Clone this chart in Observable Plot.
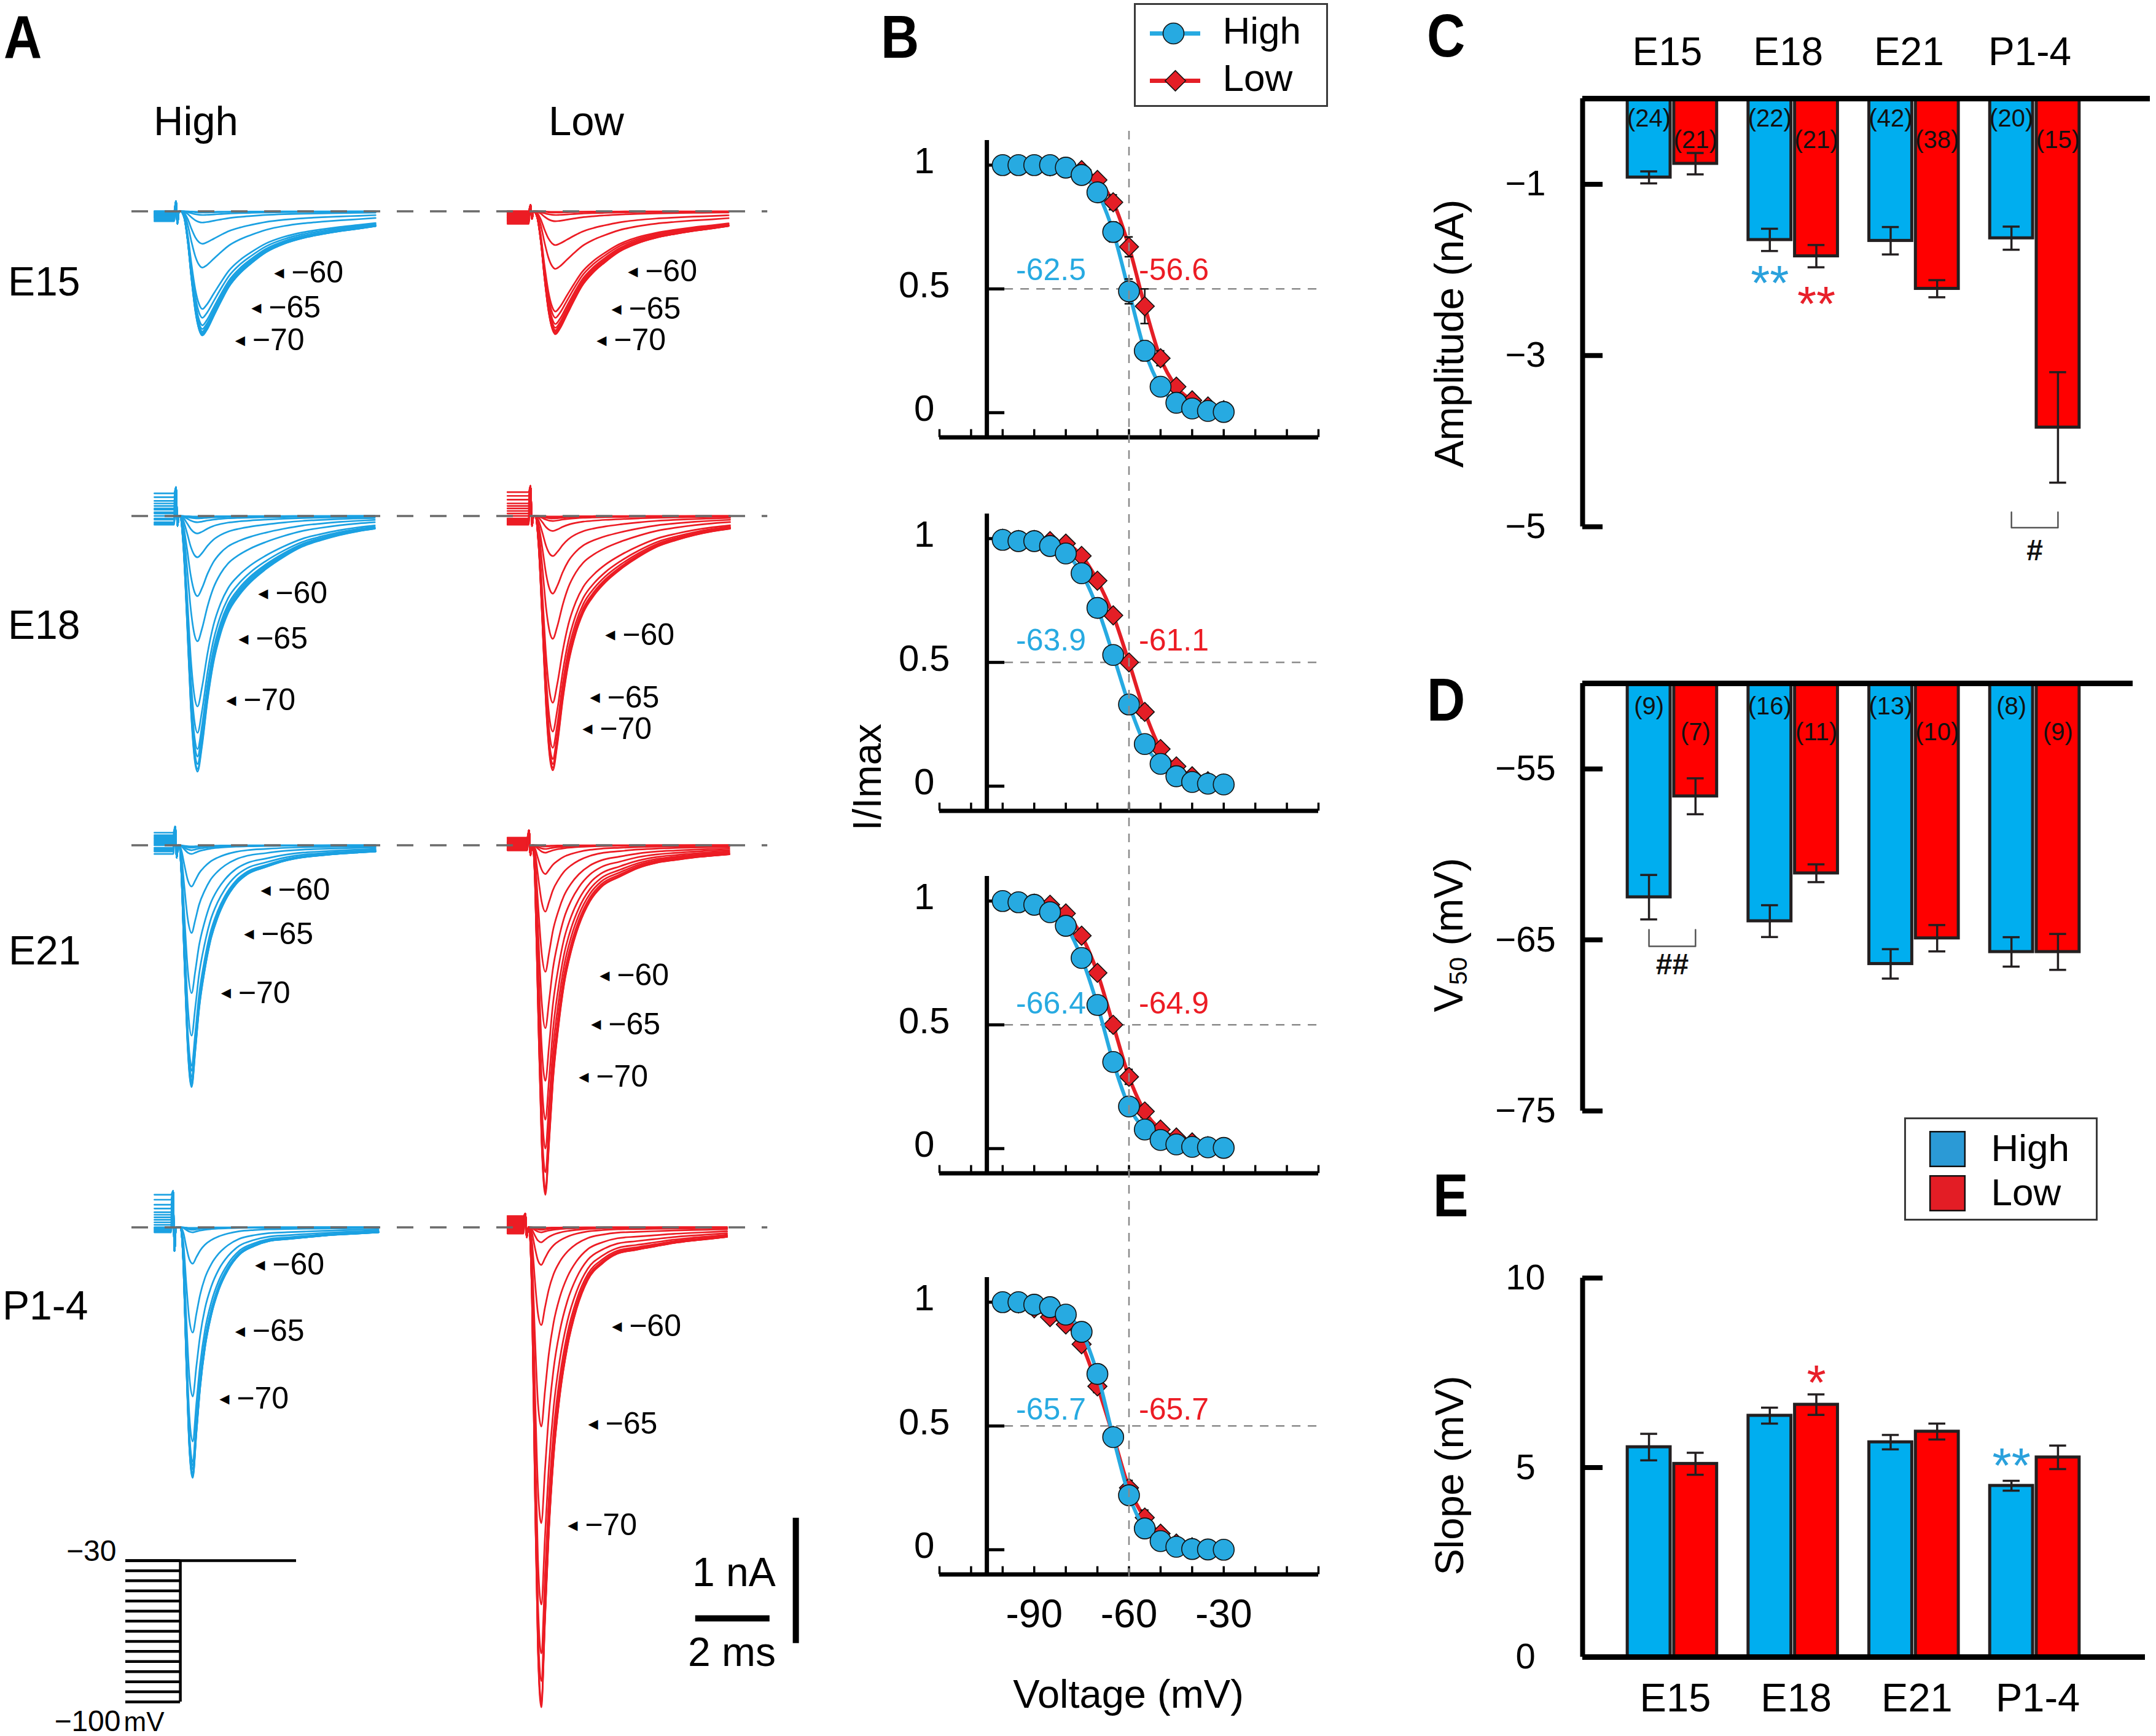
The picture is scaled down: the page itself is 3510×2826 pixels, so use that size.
<!DOCTYPE html>
<html><head><meta charset="utf-8">
<script src="https://cdn.jsdelivr.net/npm/d3@7"></script>
<script src="https://cdn.jsdelivr.net/npm/@observablehq/plot@0.6"></script>
<style>
html,body{margin:0;padding:0;background:#fff;}
#fig{position:relative;width:3510px;height:2826px;overflow:hidden;background:#fff;font-family:'Liberation Sans',Arial,Helvetica,sans-serif;}
.lab{position:absolute;white-space:nowrap;line-height:1;color:#000;}
.lab sub{font-size:0.62em;vertical-align:-0.18em;}
</style></head>
<body><div id="fig"></div>
<script>
// ======================= DATA =======================
const ages = ["E15", "E18", "E21", "P1-4"];
const conds = ["High", "Low"];
const prepulse = [-100,-95,-90,-85,-80,-75,-70,-65,-60,-55,-50,-45,-40,-35,-30];

// ---- Panel A: peak current (nA) of each trace, prepulse -100 ... -30 mV
const pkE15High = [0.99,0.99,0.98,0.97,0.96,0.94,0.91,0.85,0.78,0.45,0.26,0.09,0.03,0.01,0.005];
const pkE15Low  = [0.98,0.98,0.97,0.96,0.95,0.93,0.90,0.85,0.80,0.46,0.27,0.08,0.03,0.01,0.005];
const pkE18High = [2.04,2.02,1.98,1.92,1.86,1.73,1.52,1.00,0.64,0.33,0.14,0.05,0.02,0.01,0.005];
const pkE18Low  = [2.03,2.01,1.98,1.94,1.85,1.72,1.49,0.98,0.62,0.32,0.12,0.04,0.02,0.01,0.005];
const pkE21High = [1.93,1.92,1.90,1.88,1.85,1.80,1.76,1.52,1.18,0.70,0.33,0.07,0.04,0.02,0.01];
const pkE21Low  = [2.79,2.77,2.74,2.61,2.42,2.19,1.88,1.46,1.01,0.53,0.23,0.06,0.03,0.01,0.005];
const pkP14High = [2.00,1.99,1.98,1.96,1.93,1.90,1.87,1.71,1.35,0.84,0.29,0.04,0.02,0.01,0.005];
const pkP14Low  = [3.83,3.80,3.78,3.62,3.40,3.01,2.36,1.59,0.78,0.30,0.12,0.04,0.02,0.01,0.005];
// holding level of each trace before the test pulse (nA)
const preE15High = [-0.08,-0.07,-0.06,-0.05,-0.05,-0.04,-0.04,-0.03,-0.03,-0.02,-0.02,-0.01,-0.01,0,0];
const preE15Low  = [-0.10,-0.09,-0.08,-0.07,-0.06,-0.05,-0.05,-0.04,-0.03,-0.03,-0.02,-0.01,-0.01,0,0];
const preE18High = [0.18,0.15,0.12,0.10,0.08,0.06,0.05,0.03,0.02,0,-0.02,-0.03,-0.05,-0.06,-0.07];
const preE18Low  = [0.19,0.16,0.13,0.10,0.08,0.06,0.04,0.02,0,-0.02,-0.03,-0.04,-0.05,-0.06,-0.07];
const preE21High = [0.10,0.08,0.07,0.06,0.05,0.04,0.03,0.02,0.01,0,-0.02,-0.03,-0.04,-0.05,-0.07];
const preE21Low  = [0.06,0.05,0.04,0.03,0.02,0.02,0.01,0,0,-0.01,-0.02,-0.03,-0.03,-0.04,-0.04];
const preP14High = [0.26,0.22,0.18,0.15,0.12,0.10,0.08,0.06,0.04,0.02,0,-0.01,-0.02,-0.03,-0.04];
const preP14Low  = [0.09,0.08,0.07,0.06,0.05,0.04,0.03,0.02,0.01,0,-0.01,-0.02,-0.03,-0.04,-0.05];
// normalised time course of the largest trace of each age (t in ms from trace start)
const tmplT_E15 = [0.70,0.80,0.90,1.00,1.10,1.20,1.29,1.40,1.60,1.80,2.00,2.30,2.60,3.00,3.50,4.00,4.50,5.00,5.50,5.95];
const tmplV_E15 = [0,0.05,0.25,0.55,0.80,0.95,1.00,0.96,0.84,0.72,0.61,0.50,0.42,0.33,0.26,0.215,0.185,0.16,0.14,0.12];
const tmplT_E18 = [0.70,0.80,0.90,1.00,1.10,1.18,1.30,1.45,1.60,1.80,2.00,2.30,2.60,3.00,3.50,4.00,4.50,5.00,5.50,5.95];
const tmplV_E18 = [0,0.12,0.42,0.75,0.95,1.00,0.90,0.72,0.58,0.46,0.38,0.31,0.26,0.21,0.16,0.12,0.095,0.075,0.06,0.05];
const tmplT_E21 = [0.66,0.72,0.80,0.90,1.00,1.10,1.20,1.35,1.50,1.70,1.90,2.20,2.50,3.00,3.50,4.00,4.50,5.00,5.50,5.95];
const tmplV_E21 = [0,0.10,0.45,0.85,1.00,0.85,0.68,0.52,0.40,0.30,0.23,0.16,0.12,0.09,0.065,0.05,0.042,0.035,0.03,0.026];
const tmplT_P14 = [0.62,0.70,0.78,0.86,0.95,1.05,1.15,1.28,1.45,1.65,1.90,2.20,2.60,3.00,3.50,4.00,4.50,5.00,5.50,5.95];
const tmplV_P14 = [0,0.15,0.55,0.88,1.00,0.82,0.64,0.48,0.35,0.25,0.17,0.11,0.075,0.055,0.047,0.04,0.033,0.028,0.024,0.02];
// arrow labels: [prepulse mV, t (ms from trace start), I (nA)]
const labE15High = [[-60,3.22,-0.49],[-65,2.61,-0.77],[-70,2.17,-1.03]];
const labE15Low  = [[-60,3.24,-0.48],[-65,2.80,-0.78],[-70,2.40,-1.03]];
const labE18High = [[-60,2.79,-0.62],[-65,2.26,-0.98],[-70,1.93,-1.47]];
const labE18Low  = [[-60,2.63,-0.95],[-65,2.22,-1.45],[-70,2.02,-1.70]];
const labE21High = [[-60,2.86,-0.36],[-65,2.41,-0.71],[-70,1.79,-1.18]];
const labE21Low  = [[-60,2.48,-1.04],[-65,2.25,-1.43],[-70,1.92,-1.85]];
const labP14High = [[-60,2.71,-0.30],[-65,2.17,-0.83],[-70,1.75,-1.37]];
const labP14Low  = [[-60,2.81,-0.79],[-65,2.17,-1.57],[-70,1.62,-2.38]];
const protocolLevels = [-100,-95,-90,-85,-80,-75,-70,-65,-60,-55,-50,-45,-40,-35,-30];
const protocolTest = -30;
const scaleBarNA = 1, scaleBarMS = 2;

// ---- Panel B: I/Imax at each prepulse
const bHighE15 = [1.0,1.0,1.0,1.0,0.99,0.96,0.89,0.73,0.49,0.25,0.105,0.04,0.017,0.007,0.003];
const bLowE15  = [1.0,1.0,1.0,0.995,0.99,0.98,0.94,0.85,0.67,0.43,0.22,0.105,0.05,0.025,0.01];
const bHighE18 = [0.995,0.99,0.99,0.97,0.94,0.86,0.72,0.53,0.33,0.17,0.09,0.04,0.017,0.01,0.007];
const bLowE18  = [1.0,0.995,0.995,0.99,0.98,0.93,0.83,0.69,0.50,0.30,0.15,0.08,0.04,0.02,0.01];
const bHighE21 = [1.0,0.995,0.985,0.955,0.90,0.77,0.58,0.35,0.17,0.077,0.035,0.017,0.007,0.005,0.003];
const bLowE21  = [1.0,0.995,0.99,0.985,0.95,0.86,0.71,0.50,0.29,0.15,0.077,0.045,0.025,0.01,0.005];
const bHighP14 = [1.0,1.0,0.99,0.98,0.95,0.88,0.71,0.455,0.22,0.086,0.035,0.012,0.003,0.001,0.0];
const bLowP14  = [1.0,0.995,0.975,0.94,0.91,0.83,0.66,0.46,0.25,0.13,0.065,0.025,0.01,0.004,0.002];
const sHighE15 = [0,0,0,0,0.005,0.01,0.02,0.04,0.05,0.04,0.02,0.01,0.005,0,0];
const sLowE15  = [0,0,0,0,0.005,0.01,0.02,0.03,0.04,0.07,0.03,0.01,0.01,0,0];
const sHighE18 = [0,0,0,0.005,0.01,0.015,0.02,0.02,0.02,0.02,0.01,0.005,0,0,0];
const sLowE18  = [0,0,0,0.005,0.01,0.015,0.02,0.02,0.02,0.025,0.02,0.01,0.005,0,0];
const sHighE21 = [0,0,0,0.005,0.01,0.015,0.02,0.02,0.02,0.015,0.01,0.005,0,0,0];
const sLowE21  = [0,0,0,0.005,0.01,0.02,0.02,0.025,0.03,0.025,0.02,0.01,0.005,0,0];
const sHighP14 = [0,0,0,0.005,0.01,0.015,0.02,0.025,0.02,0.015,0.01,0.005,0,0,0];
const sLowP14  = [0,0,0,0.005,0.01,0.02,0.025,0.03,0.03,0.03,0.02,0.01,0.005,0,0];

// ---- Panel C: amplitude (nA)
const ampHigh = [-0.92,-1.65,-1.66,-1.63];
const ampHighSem = [0.07,0.13,0.16,0.135];
const ampLow = [-0.76,-1.84,-2.22,-3.84];
const ampLowSem = [0.125,0.13,0.10,0.645];
const ampNHigh = [24,22,42,20];
const ampNLow = [21,21,38,15];
// ---- Panel D: V50 (mV)
const v50High = [-62.5,-63.9,-66.4,-65.7];
const v50HighSem = [1.3,0.93,0.86,0.86];
const v50Low = [-56.6,-61.1,-64.9,-65.7];
const v50LowSem = [1.05,0.52,0.77,1.05];
const v50NHigh = [9,16,13,8];
const v50NLow = [7,11,10,9];
// ---- Panel E: slope (mV)
const slopeHigh = [5.54,6.37,5.67,4.52];
const slopeHighSem = [0.35,0.21,0.19,0.13];
const slopeLow = [5.1,6.66,5.95,5.27];
const slopeLowSem = [0.29,0.27,0.21,0.31];

// ======================= STYLE / LAYOUT =======================
const FONT = "'Liberation Sans', Arial, Helvetica, sans-serif";
const BLUE_T = "#1ba1e2", RED_T = "#ec1c24";
const BLUE_B = "#27aae1", RED_B = "#e41e26";
const BLUE_BAR = "#00aeef", RED_BAR = "#ff0000";
const BLUE_LEG = "#2b9ad6", RED_LEG = "#e31d25";
const SIG_BLUE = "#2aa1dc", SIG_RED = "#e8202a";
const INK = "#231f20";
const fig = document.getElementById("fig");

function place(el, left, top) {
  el.style.position = "absolute";
  el.style.left = left + "px";
  el.style.top = top + "px";
  el.style.background = "none";
  el.style.overflow = "visible";
  el.style.maxWidth = "none";
  el.style.fontFamily = FONT;
  fig.appendChild(el);
  return el;
}
function label(txt, x, base, size, o = {}) {
  const d = document.createElement("div");
  d.className = "lab";
  d.innerHTML = txt;
  d.style.fontSize = size + "px";
  d.style.left = x + "px";
  d.style.top = (base - 0.8465 * size) + "px";
  if (o.weight) d.style.fontWeight = o.weight;
  let tf = "";
  if (o.anchor === "middle") tf += "translateX(-50%) ";
  if (o.scaleX) { tf += "scaleX(" + o.scaleX + ")"; d.style.transformOrigin = "left center"; }
  d.style.transform = tf;
  fig.appendChild(d);
}
function vlabel(txt, cx, cy, size) {
  const d = document.createElement("div");
  d.className = "lab";
  d.innerHTML = txt;
  d.style.fontSize = size + "px";
  d.style.left = cx + "px";
  d.style.top = cy + "px";
  d.style.transform = "translate(-50%,-50%) rotate(-90deg)";
  fig.appendChild(d);
}
const diamondSym = {draw(ctx, size) { const r = Math.sqrt(size) * 0.62625; ctx.moveTo(0, -r); ctx.lineTo(r, 0); ctx.lineTo(0, r); ctx.lineTo(-r, 0); ctx.closePath(); }};

// ======================= PANEL A: traces =======================
const LOW_OFFSET = 9.5;               // ms, start of Low column
const A_PXMS = 60.5, A_PXNA = 204;    // px per ms, px per nA
const A_XDOM = [-0.61, 17.6], A_YDOM = [-4.4, 0.6];
const rowsA = [
  {age: "E15", base: 343, tT: tmplT_E15, tV: tmplV_E15, fams: [
    {cond: "High", peaks: pkE15High, pre: preE15High, tArt: 0.58, shift: 0, spike: 0.08, dip: 0.10, labs: labE15High},
    {cond: "Low", peaks: pkE15Low, pre: preE15Low, tArt: 0.62, shift: 0, spike: 0.05, dip: 0.06, labs: labE15Low}]},
  {age: "E18", base: 839, tT: tmplT_E18, tV: tmplV_E18, fams: [
    {cond: "High", peaks: pkE18High, pre: preE18High, tArt: 0.58, shift: -0.02, spike: 0.23, dip: 0.08, labs: labE18High},
    {cond: "Low", peaks: pkE18Low, pre: preE18Low, tArt: 0.62, shift: 0.04, spike: 0.24, dip: 0.08, labs: labE18Low}]},
  {age: "E21", base: 1375, tT: tmplT_E21, tV: tmplV_E21, fams: [
    {cond: "High", peaks: pkE21High, pre: preE21High, tArt: 0.56, shift: 0, spike: 0.15, dip: 0.10, labs: labE21High},
    {cond: "Low", peaks: pkE21Low, pre: preE21Low, tArt: 0.58, shift: 0.02, spike: 0.12, dip: 0.08, labs: labE21Low}]},
  {age: "P1-4", base: 1997, tT: tmplT_P14, tV: tmplV_P14, fams: [
    {cond: "High", peaks: pkP14High, pre: preP14High, tArt: 0.50, shift: 0.08, spike: 0.29, dip: 0.19, labs: labP14High},
    {cond: "Low", peaks: pkP14Low, pre: preP14Low, tArt: 0.48, shift: -0.04, spike: 0.11, dip: 0.08, labs: labP14Low}]}
];
function buildTraces(row, f) {
  const off = f.cond === "Low" ? LOW_OFFSET : 0;
  const out = [];
  f.peaks.forEach((pk, k) => {
    const key = f.cond + k;
    const push = (t, i) => out.push({k: key, t: t + off, i});
    push(0, f.pre[k]);
    push(f.tArt - 0.05, f.pre[k]);
    push(f.tArt, f.spike);
    push(f.tArt + 0.04, -f.dip);
    push(f.tArt + 0.08, 0);
    row.tT.forEach((t, j) => { const tt = t + f.shift; if (tt > f.tArt + 0.09) push(tt, -pk * row.tV[j]); });
  });
  return out;
}
rowsA.forEach((row, r) => {
  const marks = [];
  row.fams.forEach(f => {
    marks.push(Plot.line(buildTraces(row, f), {x: "t", y: "i", z: "k", stroke: f.cond === "High" ? BLUE_T : RED_T, strokeWidth: 2.7, curve: "monotone-x"}));
  });
  marks.push(Plot.ruleY([0], {x1: A_XDOM[0], x2: 16.5, stroke: "#6a6a6a", strokeWidth: 3.5, strokeDasharray: "27 27"}));
  row.fams.forEach(f => {
    const off = f.cond === "Low" ? LOW_OFFSET : 0;
    const labs = f.labs.map(([v, t, i]) => ({v, t: t + off, i}));
    marks.push(Plot.text(labs, {x: "t", y: "i", text: () => "\u25C0", textAnchor: "start", fontSize: 21, fontFamily: "DejaVu Sans", fill: "#000"}));
    marks.push(Plot.text(labs, {x: "t", y: "i", text: d => "\u2212" + Math.abs(d.v), dx: 28, textAnchor: "start", fontSize: 50, fill: "#000"}));
  });
  if (r === rowsA.length - 1) {
    // scale bars
    marks.push(Plot.ruleX([17.26], {y1: -2.32 - scaleBarNA, y2: -2.32, stroke: "#000", strokeWidth: 10}));
    marks.push(Plot.ruleY([-3.12], {x1: 14.56, x2: 14.56 + scaleBarMS, stroke: "#000", strokeWidth: 10}));
  }
  const frameW = (A_XDOM[1] - A_XDOM[0]) * A_PXMS;
  const H = (A_YDOM[1] - A_YDOM[0]) * A_PXNA;
  const p = Plot.plot({width: 1400, height: H, marginLeft: 214, marginRight: 1400 - 214 - frameW, marginTop: 0, marginBottom: 0,
    x: {domain: A_XDOM, axis: null}, y: {domain: A_YDOM, axis: null}, marks});
  place(p, 0, row.base - A_YDOM[1] * A_PXNA);
});

// voltage protocol
{
  const p = Plot.plot({width: 600, height: 386, marginLeft: 204, marginRight: 118, marginTop: 100, marginBottom: 56,
    x: {domain: [0, 3.12], axis: null}, y: {domain: [-100, -30], axis: null},
    marks: [
      Plot.ruleY(protocolLevels, {x1: 0, x2: 1, stroke: "#000", strokeWidth: 4.5}),
      Plot.ruleX([1], {y1: d3.min(protocolLevels), y2: protocolTest, stroke: "#000", strokeWidth: 4.5}),
      Plot.ruleY([protocolTest], {x1: 0, x2: 3.12, stroke: "#000", strokeWidth: 4.5}),
      Plot.text([-30], {x: 0, y: d => d, text: d => "\u2212" + Math.abs(d), textAnchor: "end", lineAnchor: "bottom", dx: -15, fontSize: 48}),
      Plot.text([-100], {x: 0, y: d => d, text: d => "\u2212" + Math.abs(d), textAnchor: "end", lineAnchor: "bottom", dx: -8, dy: 47, fontSize: 48}),
      Plot.text([-100], {x: 0, y: d => d, text: () => "mV", textAnchor: "start", lineAnchor: "bottom", dx: -3, dy: 47, fontSize: 44})
    ]});
  place(p, 0, 2440);
}

// ======================= PANEL B =======================
const B_PX = 403;                 // px per unit I/Imax
const B_PXMV = 617 / 120;         // px per mV
const B_YAXIS = -105;             // position of the y axis (mV)
const bSub = [
  {age: "E15", high: bHighE15, low: bLowE15, sH: sHighE15, sL: sLowE15, top: 227.7, labDy: -14},
  {age: "E18", high: bHighE18, low: bLowE18, sH: sHighE18, sL: sLowE18, top: 835.7, labDy: -19},
  {age: "E21", high: bHighE21, low: bLowE21, sH: sHighE21, sL: sLowE21, top: 1425.7, labDy: -18},
  {age: "P1-4", high: bHighP14, low: bLowP14, sH: sHighP14, sL: sLowP14, top: 2078.7, labDy: -10}
];
function errMarks(pts) {
  const e = pts.filter(d => d.e > 0);
  const c = {stroke: "#111", strokeWidth: 2.5};
  return [
    Plot.ruleX(e, {x: "v", y1: d => d.i - d.e, y2: d => d.i + d.e, ...c}),
    Plot.ruleY(e, {y: d => d.i + d.e, x1: d => d.v - 1.3, x2: d => d.v + 1.3, ...c}),
    Plot.ruleY(e, {y: d => d.i - d.e, x1: d => d.v - 1.3, x2: d => d.v + 1.3, ...c})
  ];
}
bSub.forEach((s, k) => {
  const last = k === bSub.length - 1;
  const mt = 30, mb = last ? 120 : 30, fh = 1.2 * B_PX;
  const hi = s.high.map((v, j) => ({v: prepulse[j], i: v, e: s.sH[j]}));
  const lo = s.low.map((v, j) => ({v: prepulse[j], i: v, e: s.sL[j]}));
  const gi = ages.indexOf(s.age);
  const marks = [
    Plot.ruleY([0.5], {x1: B_YAXIS + 29 / B_PXMV, x2: 0, stroke: "#8a8a8a", strokeWidth: 2.5, strokeDasharray: "14 12"}),
    Plot.ruleY([-0.1], {x1: -120, x2: 0, stroke: "#000", strokeWidth: 7}),
    Plot.ruleX([B_YAXIS], {y1: -0.1, y2: 1.1, stroke: "#000", strokeWidth: 7}),
    Plot.ruleX(d3.range(-120, 1, 10), {y1: -0.1, y2: -0.1 + 13 / B_PX, stroke: "#000", strokeWidth: 3.5}),
    Plot.ruleY([0, 0.5, 1], {x1: B_YAXIS, x2: B_YAXIS + 29 / B_PXMV, stroke: "#000", strokeWidth: 5}),
    Plot.text([0, 0.5, 1], {x: B_YAXIS, y: d => d, text: d => String(d), dx: -102, dy: -6, textAnchor: "middle", fontSize: 60}),
    Plot.line(lo, {x: "v", y: "i", stroke: RED_B, strokeWidth: 6, curve: "monotone-x"}),
    ...errMarks(lo),
    Plot.dot(lo, {x: "v", y: "i", symbol: diamondSym, r: 14, fill: RED_B, stroke: "#111", strokeWidth: 1.6}),
    Plot.line(hi, {x: "v", y: "i", stroke: BLUE_B, strokeWidth: 6, curve: "monotone-x"}),
    ...errMarks(hi),
    Plot.dot(hi, {x: "v", y: "i", r: 17, fill: BLUE_B, stroke: "#111", strokeWidth: 1.6}),
    Plot.text([v50High[gi]], {x: -60, y: 0.5, text: d => d.toFixed(1), dx: -70, dy: s.labDy, textAnchor: "end", lineAnchor: "bottom", fontSize: 50, fill: BLUE_B}),
    Plot.text([v50Low[gi]], {x: -60, y: 0.5, text: d => d.toFixed(1), dx: 16, dy: s.labDy, textAnchor: "start", lineAnchor: "bottom", fontSize: 50, fill: RED_T})
  ];
  if (last) marks.push(Plot.text([-90, -60, -30], {x: d => d, frameAnchor: "bottom", text: d => String(d), dy: 86, lineAnchor: "bottom", fontSize: 64}));
  const p = Plot.plot({width: 800, height: mt + fh + mb, marginLeft: 149, marginRight: 34, marginTop: mt, marginBottom: mb,
    x: {domain: [-120, 0], axis: null}, y: {domain: [-0.1, 1.1], axis: null}, marks});
  place(p, 1380, s.top - mt);
});
// vertical dashed guide at -60 mV through all four plots
{
  const p = Plot.plot({width: 800, height: 2361, marginLeft: 149, marginRight: 34, marginTop: 0, marginBottom: 0,
    x: {domain: [-120, 0], axis: null}, y: {domain: [0, 1], axis: null},
    marks: [Plot.ruleX([-60], {stroke: "#8a8a8a", strokeWidth: 2.5, strokeDasharray: "14 12"})]});
  place(p, 1380, 213);
}
// legend B
{
  const p = Plot.plot({width: 313, height: 166, margin: 0,
    x: {domain: [0, 313], range: [0, 313], axis: null},
    y: {type: "point", domain: conds, range: [48, 125], padding: 0, axis: null},
    marks: [
      Plot.frame({stroke: "#3a3a3a", strokeWidth: 3}),
      Plot.ruleY(["High"], {y: d => d, x1: 25, x2: 107, stroke: BLUE_B, strokeWidth: 7}),
      Plot.ruleY(["Low"], {y: d => d, x1: 25, x2: 107, stroke: RED_B, strokeWidth: 7}),
      Plot.dot(["High"], {x: 63, y: d => d, r: 17, fill: BLUE_B, stroke: "#111", strokeWidth: 1.6}),
      Plot.dot(["Low"], {x: 66, y: d => d, r: 15, symbol: diamondSym, fill: RED_B, stroke: "#111", strokeWidth: 1.6}),
      Plot.text(conds, {x: 143, y: d => d, text: d => d, dy: -3, textAnchor: "start", fontSize: 62})
    ]});
  place(p, 1847, 6);
}

// ======================= PANELS C, D, E =======================
const PXG = 196.7, AXIS_PX = 2576, X0 = -0.742, BW = 0.355, BG = 0.015, CAP = 0.07;
const bx1 = d => d.cond === "High" ? d.i - BG - BW : d.i + BG;
const bx2 = d => d.cond === "High" ? d.i - BG : d.i + BG + BW;
const bxc = d => (bx1(d) + bx2(d)) / 2;
function barTable(hi, hiSem, lo, loSem, nHi, nLo) {
  return ages.flatMap((age, i) => [
    {age, i, cond: "High", v: hi[i], e: hiSem[i], n: nHi ? nHi[i] : null},
    {age, i, cond: "Low", v: lo[i], e: loSem[i], n: nLo ? nLo[i] : null}]);
}
const fmtTick = d => d < 0 ? "\u2212" + Math.abs(d) : String(d);
function barPlot(s) {
  const left = 2290, width = 1220;
  const xMax = X0 + (s.rightPx - AXIS_PX) / PXG;
  const marks = [
    Plot.ruleX([X0], {y1: s.yDomain[0], y2: s.yDomain[1], stroke: "#000", strokeWidth: 8}),
    Plot.ruleY(s.ticks, {x1: X0, x2: X0 + 33 / PXG, stroke: "#000", strokeWidth: 8}),
    Plot.text(s.ticks, {x: X0, y: d => d, text: fmtTick, dx: -93, textAnchor: "middle", fontSize: 58})
  ];
  conds.forEach((c, ci) => {
    const rows = s.data.filter(d => d.cond === c);
    marks.push(Plot.rect(rows, {x1: bx1, x2: bx2, y1: s.base, y2: "v", fill: c === "High" ? BLUE_BAR : RED_BAR, stroke: INK, strokeWidth: 5}));
    if (s.nDy) marks.push(Plot.text(rows, {x: bxc, y: s.base, text: d => "(" + d.n + ")", dy: s.nDy[ci], fontSize: 40, fill: "#111"}));
    marks.push(Plot.ruleX(rows, {x: bxc, y1: d => d.v - d.e, y2: d => d.v + d.e, stroke: INK, strokeWidth: 3.5}));
    marks.push(Plot.ruleY(rows, {y: d => d.v + d.e, x1: d => bxc(d) - CAP, x2: d => bxc(d) + CAP, stroke: INK, strokeWidth: 3.5}));
    marks.push(Plot.ruleY(rows, {y: d => d.v - d.e, x1: d => bxc(d) - CAP, x2: d => bxc(d) + CAP, stroke: INK, strokeWidth: 3.5}));
  });
  marks.push(Plot.ruleY([s.base], {stroke: "#000", strokeWidth: 9}));
  (s.sig || []).forEach(g => marks.push(Plot.text([g], {x: bxc, y: "y", text: "text", fill: g.color, fontSize: 80, lineAnchor: "bottom", dy: 46})));
  if (s.bracket) {
    const b = s.bracket;
    const c1 = bxc({i: b.i, cond: "High"}), c2 = bxc({i: b.i, cond: "Low"});
    marks.push(Plot.line([{x: c1, y: b.top}, {x: c1, y: b.bottom}, {x: c2, y: b.bottom}, {x: c2, y: b.top}], {x: "x", y: "y", stroke: "#555", strokeWidth: 2.5}));
    marks.push(Plot.text([b], {x: (c1 + c2) / 2, y: "labelY", text: "text", fontSize: 48, fontWeight: "bold", fill: "#111"}));
  }
  if (s.cats === "top") marks.push(Plot.text(ages, {x: (d, i) => i, text: d => d, frameAnchor: "top", dy: -55, dx: -8, lineAnchor: "bottom", fontSize: 64}));
  if (s.cats === "bottom") marks.push(Plot.text(ages, {x: (d, i) => i, text: d => d, frameAnchor: "bottom", dy: 88, dx: 5, lineAnchor: "bottom", fontSize: 65}));
  const p = Plot.plot({width, height: s.svgHeight, marginLeft: AXIS_PX - left, marginRight: left + width - s.rightPx,
    marginTop: s.frameTop - s.svgTop, marginBottom: s.svgTop + s.svgHeight - s.frameBottom,
    x: {domain: [X0, xMax], axis: null}, y: {domain: s.yDomain, axis: null}, marks});
  place(p, left, s.svgTop);
}
barPlot({data: barTable(ampHigh, ampHighSem, ampLow, ampLowSem, ampNHigh, ampNLow), yDomain: [-5, 0], base: 0, ticks: [-1, -3, -5],
  svgTop: 0, svgHeight: 960, frameTop: 160, frameBottom: 857, rightPx: 3500, nDy: [33, 68], cats: "top",
  sig: [{i: 1, cond: "High", y: -2.02, text: "**", color: SIG_BLUE}, {i: 1, cond: "Low", y: -2.26, text: "**", color: SIG_RED}],
  bracket: {i: 3, top: -4.83, bottom: -5.01, labelY: -5.28, text: "#"}});
barPlot({data: barTable(v50High, v50HighSem, v50Low, v50LowSem, v50NHigh, v50NLow), yDomain: [-75, -50], base: -50, ticks: [-55, -65, -75],
  svgTop: 1050, svgHeight: 820, frameTop: 1112, frameBottom: 1808, rightPx: 3472, nDy: [38, 80],
  bracket: {i: 0, top: -64.4, bottom: -65.37, labelY: -66.45, text: "##"}});
barPlot({data: barTable(slopeHigh, slopeHighSem, slopeLow, slopeLowSem), yDomain: [0, 10], base: 0, ticks: [0, 5, 10],
  svgTop: 2000, svgHeight: 826, frameTop: 2080, frameBottom: 2697, rightPx: 3492, cats: "bottom",
  sig: [{i: 1, cond: "Low", y: 7.54, text: "*", color: SIG_RED}, {i: 3, cond: "High", y: 5.36, text: "**", color: SIG_BLUE}]});
// bar legend
{
  const p = Plot.plot({width: 312, height: 165, margin: 0,
    x: {domain: [0, 312], range: [0, 312], axis: null},
    y: {type: "point", domain: conds, range: [50, 122], padding: 0, axis: null},
    marks: [
      Plot.frame({stroke: "#3a3a3a", strokeWidth: 3}),
      Plot.dot(["High"], {x: 69, y: d => d, symbol: "square", r: 32, fill: BLUE_LEG, stroke: "#111", strokeWidth: 2.5}),
      Plot.dot(["Low"], {x: 69, y: d => d, symbol: "square", r: 32, fill: RED_LEG, stroke: "#111", strokeWidth: 2.5}),
      Plot.text(conds, {x: 140, y: d => d, text: d => d, textAnchor: "start", fontSize: 62})
    ]});
  place(p, 3101, 1820);
}

// ======================= TEXT LABELS =======================
[["A", 6, 94], ["B", 1434, 94], ["C", 2323, 92], ["D", 2323, 1173], ["E", 2333, 1980]]
  .forEach(([t, x, y]) => label(t, x, y, 98, {weight: "bold", scaleX: 0.88}));
label("High", 250, 220, 67);
label("Low", 893, 220, 67);
[["E15", 13, 481], ["E18", 13, 1040], ["E21", 14, 1570], ["P1-4", 4, 2148]].forEach(([t, x, y]) => label(t, x, y, 66));
label("1 nA", 1127, 2582, 66);
label("2 ms", 1120, 2712, 66);
vlabel("I/Imax", 1412, 1265, 64);
label("Voltage (mV)", 1837, 2780, 65, {anchor: "middle"});
vlabel("Amplitude (nA)", 2359, 543, 66);
vlabel("V<sub>50</sub> (mV)", 2360, 1522, 66);
vlabel("Slope (mV)", 2359, 2402, 65);
</script></body></html>
